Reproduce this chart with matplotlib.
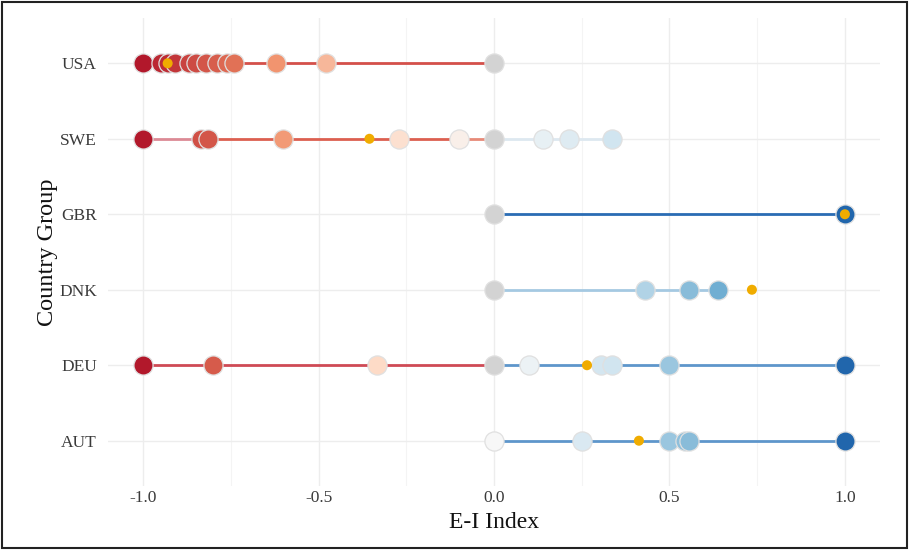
import matplotlib
matplotlib.use("Agg")
import matplotlib.pyplot as plt
from matplotlib.colors import LinearSegmentedColormap, Normalize
from matplotlib.patches import Rectangle

countries = ["AUT", "DEU", "DNK", "GBR", "SWE", "USA"]

ei_usa = [-1.0, -0.95, -0.93, -0.91, -0.87, -0.85, -0.82, -0.79, -0.76, -0.74, -0.62, -0.48, 0.0]
ei_swe = [-1.0, -0.835, -0.815, -0.60, -0.27, -0.10, 0.0, 0.14, 0.215, 0.335]
ei_gbr = [0.0, 1.0]
ei_dnk = [0.0, 0.43, 0.555, 0.637]
ei_deu = [-1.0, -0.80, -0.333, 0.0, 0.10, 0.305, 0.335, 0.50, 1.0]
ei_aut = [0.0, 0.25, 0.50, 0.543, 0.556, 1.0]

mean_ei = {"USA": -0.93, "SWE": -0.355, "GBR": 1.0, "DNK": 0.735, "DEU": 0.265, "AUT": 0.413}

values = {"USA": ei_usa, "SWE": ei_swe, "GBR": ei_gbr, "DNK": ei_dnk, "DEU": ei_deu, "AUT": ei_aut}
grey_zero_rows = ["USA", "SWE", "GBR", "DNK", "DEU"]

xticks = [-1.0, -0.5, 0.0, 0.5, 1.0]
xticklabels = ["-1.0", "-0.5", "0.0", "0.5", "1.0"]

# line styling (colour of the connecting line on each side of zero)
line_style = {
    "USA": {"neg": "#d4504a", "pos": "#dde8f0"},
    "SWE": {"neg": "#dc5f50", "pos": "#dde8f0", "first": "#dc8a95", "near0": "#e78a78"},
    "GBR": {"neg": "#d4504a", "pos": "#2a6cb4"},
    "DNK": {"neg": "#d4504a", "pos": "#a5c9e2"},
    "DEU": {"neg": "#cf4a55", "pos": "#5e96cb"},
    "AUT": {"neg": "#cf4a55", "pos": "#5e96cb"},
}

cmap = LinearSegmentedColormap.from_list(
    "rdbu7", ["#b2182b", "#ef8a62", "#fddbc7", "#f7f7f7", "#d1e5f0", "#67a9cf", "#2166ac"])
norm = Normalize(-1, 1)

plt.rcParams["font.family"] = ["Liberation Serif", "DejaVu Serif"]

fig = plt.figure(figsize=(9.09, 5.5), dpi=100)
ax = fig.add_axes([108 / 909, 1 - 486 / 550, 772 / 909, 468 / 550])

ypos = {c: i for i, c in enumerate(countries)}


def pcolor(c, v):
    if v == 0 and c in grey_zero_rows:
        return "#d3d3d3"
    return cmap(norm(v))


for c in countries:
    y = ypos[c]
    vals = sorted(values[c])
    st = line_style[c]
    n_seg = len(vals) - 1
    for i in range(n_seg):
        a, b = vals[i], vals[i + 1]
        if b <= 0:
            col = st["neg"]
            if i == 0 and "first" in st:
                col = st["first"]
            if b == 0 and a >= -0.3 and "near0" in st:
                col = st["near0"]
        else:
            col = st["pos"]
        ax.plot([a, b], [y, y], color=col, lw=2.0, solid_capstyle="butt", zorder=2)
    for v in vals:
        ax.scatter([v], [y], s=190, color=pcolor(c, v), edgecolor="#e0e0e0",
                   linewidth=0.9, zorder=3)
    ax.scatter([mean_ei[c]], [y], s=52, color="#f0ac00", edgecolor="none", zorder=4)

ax.set_xlim(-1.1, 1.1)
ax.set_ylim(-0.6, len(countries) - 0.4)
ax.set_yticks(range(len(countries)))
ax.set_yticklabels(countries)
ax.set_xticks(xticks)
ax.set_xticklabels(xticklabels)
ax.set_xticks([-0.75, -0.25, 0.25, 0.75], minor=True)

for s in ax.spines.values():
    s.set_visible(False)
ax.tick_params(axis="both", which="both", length=0, labelsize=12.5, labelcolor="#3a3a3a")
ax.tick_params(axis="x", pad=3)
ax.tick_params(axis="y", pad=8)
ax.grid(True, which="major", color="#ededed", lw=1.0, zorder=0)
ax.grid(True, which="minor", axis="x", color="#f4f4f4", lw=0.8, zorder=0)
ax.set_axisbelow(True)

ax.set_xlabel("E-I Index", fontsize=17, color="#111111", labelpad=4)
ax.set_ylabel("Country Group", fontsize=17.5, color="#111111", labelpad=1)

fig.patches.append(Rectangle((0.002, 0.003), 0.996, 0.994, transform=fig.transFigure,
                             fill=False, edgecolor="#222222", lw=1.5))

fig.savefig("out.png", dpi=100)
